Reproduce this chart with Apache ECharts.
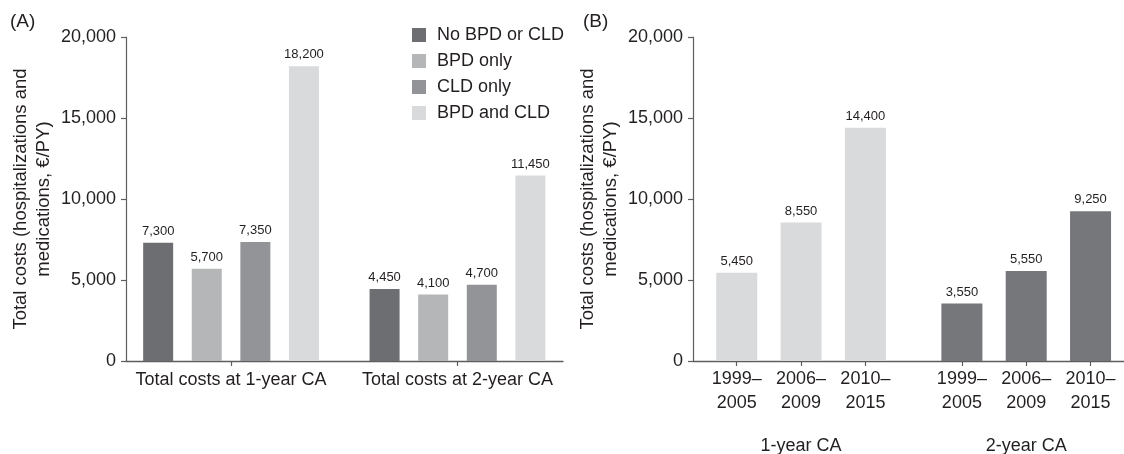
<!DOCTYPE html>
<html>
<head>
<meta charset="utf-8">
<title>Total costs by BPD/CLD status and birth period</title>
<script src="https://cdn.jsdelivr.net/npm/echarts@6/dist/echarts.min.js"></script>
<style>
  html, body { margin: 0; padding: 0; background: #fff; }
  #chart { width: 1124px; height: 454px; }
</style>
</head>
<body>
<div id="chart"></div>
<script>
// ---- Data ----
// Panel A: total costs (€/PY) by respiratory outcome, at 1-year and 2-year CA
const groupsA = ['Total costs at 1-year CA', 'Total costs at 2-year CA'];
const outcomes = ['No BPD or CLD', 'BPD only', 'CLD only', 'BPD and CLD'];
const noBpdOrCld = [7300, 4450];
const bpdOnly = [5700, 4100];
const cldOnly = [7350, 4700];
const bpdAndCld = [18200, 11450];

// Panel B: total costs (€/PY) by birth period, at 1-year and 2-year CA
const groupsB = ['1-year CA', '2-year CA'];
const periods = ['1999–2005', '2006–2009', '2010–2015'];
const oneYearCA = [5450, 8550, 14400];
const twoYearCA = [3550, 5550, 9250];

// Y axis tick values
const yTicks = [0, 5000, 10000, 15000, 20000];

// ---- Styling / layout ----
const FONT = '"Liberation Sans", Arial, Helvetica, sans-serif';
const TEXT = '#231f20';
const AXIS = '#5e5e60';
const coloursA = ['#6d6e71', '#b5b6b8', '#939498', '#d9dadc'];
const coloursB = ['#d9dadc', '#76777b'];

const fmt = v => Math.round(v).toLocaleString('en-US');

// Panel A groups sit at x = 1, 2 on a value axis.
const posA = groupsA.map((_, i) => i + 1);
// Panel B: three periods per group, with a wider gap between the two groups.
const posB = (g, p) => 1 + p + g * 3.5;
const allPosB = [];
groupsB.forEach((_, g) => periods.forEach((_, p) => allPosB.push(posB(g, p))));
const groupCentreB = groupsB.map((_, g) => posB(g, 1));

function nearestIndex(list, v) {
  let best = 0;
  list.forEach((x, i) => { if (Math.abs(x - v) < Math.abs(list[best] - v)) best = i; });
  return best;
}

const seriesA = [noBpdOrCld, bpdOnly, cldOnly, bpdAndCld].map((vals, s) => ({
  name: outcomes[s],
  type: 'bar',
  xAxisIndex: 0,
  yAxisIndex: 0,
  barWidth: 30,
  barGap: '62%',
  itemStyle: { color: coloursA[s] },
  label: {
    show: true, position: 'top', distance: 5,
    fontFamily: FONT, fontSize: 13, color: TEXT,
    formatter: p => fmt(p.value[1])
  },
  data: vals.map((v, i) => [posA[i], v])
}));

const seriesB = [oneYearCA, twoYearCA].map((vals, g) => ({
  name: groupsB[g],
  type: 'bar',
  xAxisIndex: 1,
  yAxisIndex: 1,
  barWidth: 41,
  barGap: '-100%',
  itemStyle: { color: coloursB[g] },
  label: {
    show: true, position: 'top', distance: 5,
    fontFamily: FONT, fontSize: 13, color: TEXT,
    formatter: p => fmt(p.value[1])
  },
  data: vals.map((v, p) => [posB(g, p), v])
}));

function yAxisFor(gridIndex) {
  return {
    type: 'value', gridIndex,
    min: yTicks[0], max: yTicks[yTicks.length - 1], interval: yTicks[1] - yTicks[0],
    name: 'Total costs (hospitalizations and\nmedications, €/PY)',
    nameLocation: 'middle', nameGap: 71,
    nameTextStyle: { fontFamily: FONT, fontSize: 18.5, color: TEXT, lineHeight: 23 },
    axisLine: { show: true, lineStyle: { color: AXIS, width: 1.2 } },
    axisTick: { show: true, inside: false, length: 5, lineStyle: { color: AXIS, width: 1.2 } },
    axisLabel: { fontFamily: FONT, fontSize: 18, color: TEXT, margin: 10, formatter: v => fmt(v) },
    splitLine: { show: false }
  };
}

const option = {
  animation: false,
  backgroundColor: '#fff',
  title: [
    { text: '(A)', left: 5, top: 7, textStyle: { fontFamily: FONT, fontSize: 19, fontWeight: 'normal', color: TEXT } },
    { text: '(B)', left: 578, top: 7, textStyle: { fontFamily: FONT, fontSize: 19, fontWeight: 'normal', color: TEXT } }
  ],
  legend: {
    data: outcomes,
    orient: 'vertical',
    left: 412, top: 26, padding: 0,
    itemWidth: 14, itemHeight: 14, itemGap: 8,
    icon: 'rect',
    textStyle: { fontFamily: FONT, fontSize: 18, color: TEXT, padding: [0, 0, 0, 6] }
  },
  grid: [
    { left: 126, top: 37, width: 437, height: 324, outerBoundsMode: 'none' },
    { left: 693, top: 37, right: 0, height: 324, outerBoundsMode: 'none' }
  ],
  xAxis: [
    {
      type: 'value', gridIndex: 0, min: 0.536, max: 2.466, position: 'bottom',
      axisLine: { show: true, onZero: false, lineStyle: { color: AXIS, width: 1.3 } },
      axisTick: { show: true, length: 5, customValues: posA, lineStyle: { color: AXIS, width: 1.2 } },
      axisLabel: {
        fontFamily: FONT, fontSize: 18, color: TEXT, margin: 10,
        customValues: posA,
        formatter: v => groupsA[nearestIndex(posA, v)]
      },
      splitLine: { show: false }
    },
    {
      type: 'value', gridIndex: 1, min: 0.32, max: 7.02, position: 'bottom',
      axisLine: { show: true, onZero: false, lineStyle: { color: AXIS, width: 1.3 } },
      axisTick: { show: true, length: 5, customValues: allPosB, lineStyle: { color: AXIS, width: 1.2 } },
      axisLabel: {
        fontFamily: FONT, fontSize: 18, color: TEXT, margin: 6, lineHeight: 24,
        customValues: allPosB,
        formatter: v => periods[nearestIndex(allPosB, v) % periods.length].replace('–', '–\n')
      },
      splitLine: { show: false }
    },
    {
      // group captions under the period labels
      type: 'value', gridIndex: 1, min: 0.32, max: 7.02, position: 'bottom', offset: 0,
      axisLine: { show: false, onZero: false }, axisTick: { show: false }, splitLine: { show: false },
      axisLabel: {
        fontFamily: FONT, fontSize: 18, color: TEXT, margin: 76,
        customValues: groupCentreB,
        formatter: v => groupsB[nearestIndex(groupCentreB, v)]
      }
    }
  ],
  yAxis: [yAxisFor(0), yAxisFor(1)],
  series: [...seriesA, ...seriesB]
};

const chart = echarts.init(document.getElementById('chart'), null, { renderer: 'canvas' });
chart.setOption(option);
</script>
</body>
</html>
